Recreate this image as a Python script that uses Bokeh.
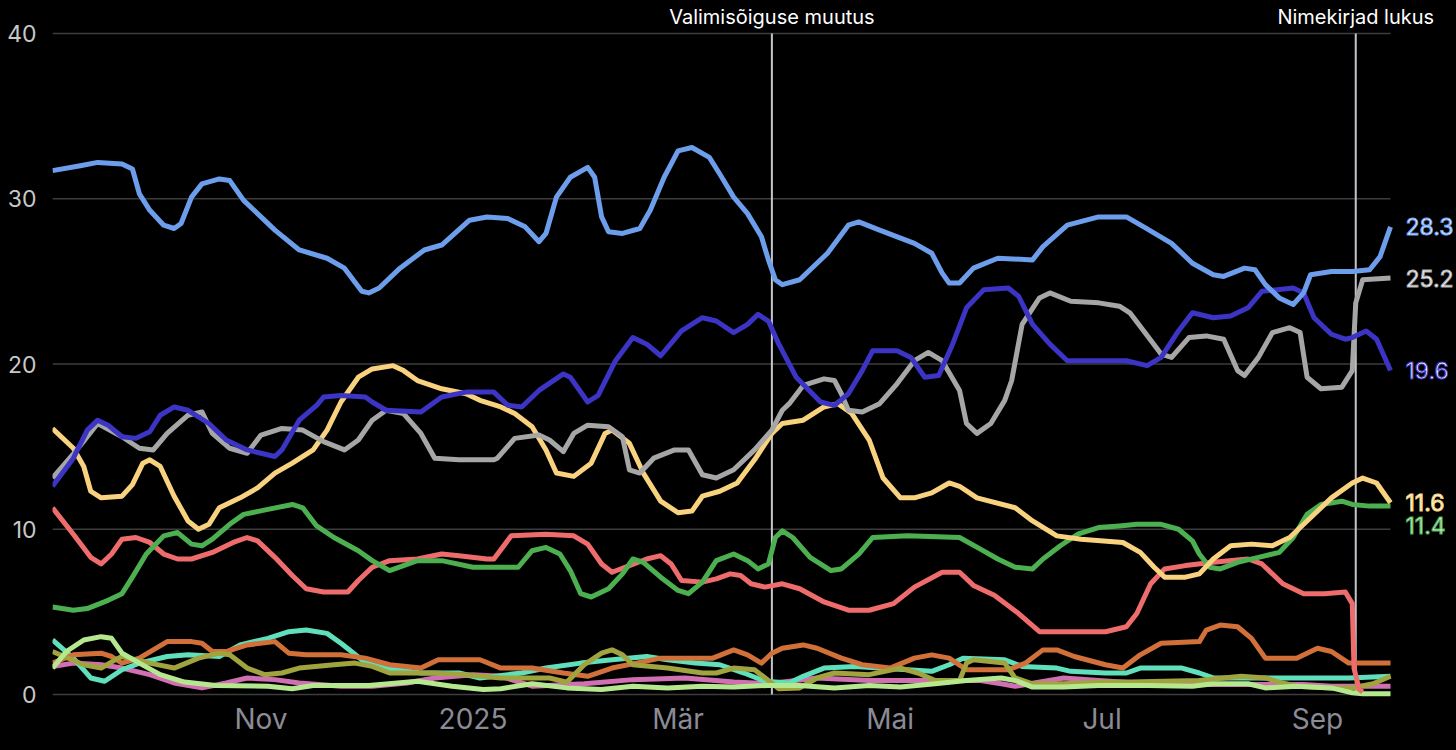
import pandas as pd
from jinja2 import Template
from bokeh.plotting import figure
from bokeh.models import Range1d, FixedTicker, Label
from bokeh.embed import file_html
from bokeh.resources import INLINE

# ---------------- data ----------------
START = pd.Timestamp("2024-09-02")          # first day of the series (day 0)
END_DAY = 385                               # last day with data (2025-09-22)

tick_dates = ["2024-11-01", "2025-01-01", "2025-03-01", "2025-05-01", "2025-07-01", "2025-09-01"]
tick_labels = ["Nov", "2025", "Mär", "Mai", "Jul", "Sep"]
y_ticks = [0, 10, 20, 30, 40]

event_dates = ["2025-03-28", "2025-09-12"]
event_labels = ["Valimisõiguse muutus", "Nimekirjad lukus"]

# series: day offsets from START and values (%)
a_days = [0, 8, 13, 20, 23, 25, 28, 32, 35, 37, 40, 43, 48, 51, 55, 64, 71, 79, 84, 89, 91, 94, 100, 107, 112, 120,
          125, 131, 136, 140, 142, 145, 149, 154, 156, 158, 160, 164, 169, 172, 176, 180, 184, 189, 192, 196, 200,
          204, 206, 208, 210, 215, 223, 229, 232, 238, 248, 253, 256, 258, 261, 265, 272, 282, 285, 292, 301, 309,
          314, 322, 328, 334, 337, 343, 346, 349, 353, 357, 360, 362, 368, 374, 379, 382, 385]
a_vals = [31.7, 32.0, 32.2, 32.1, 31.8, 30.3, 29.3, 28.4, 28.2, 28.5, 30.1, 30.9, 31.2, 31.1, 29.9, 28.1, 26.9, 26.4,
          25.8, 24.4, 24.3, 24.6, 25.8, 26.9, 27.2, 28.7, 28.9, 28.8, 28.3, 27.4, 27.9, 30.1, 31.3, 31.9, 31.3, 28.9,
          28.0, 27.9, 28.2, 29.3, 31.3, 32.9, 33.1, 32.5, 31.5, 30.1, 29.1, 27.7, 26.3, 25.1, 24.8, 25.1, 26.7, 28.4,
          28.6, 28.1, 27.3, 26.7, 25.5, 24.9, 24.9, 25.8, 26.4, 26.3, 27.1, 28.4, 28.9, 28.9, 28.3, 27.3, 26.1, 25.4,
          25.3, 25.8, 25.7, 24.8, 24.0, 23.6, 24.3, 25.4, 25.6, 25.6, 25.7, 26.5, 28.3]

b_days = [0, 6, 10, 13, 16, 20, 24, 28, 31, 35, 39, 45, 50, 56, 64, 66, 71, 76, 78, 83, 90, 92, 96, 106, 112, 119,
          127, 131, 135, 140, 147, 149, 154, 157, 162, 167, 171, 175, 181, 187, 191, 196, 200, 203, 206, 209, 214,
          221, 225, 229, 233, 236, 243, 247, 251, 255, 259, 263, 268, 275, 278, 282, 287, 292, 301, 309, 315, 319,
          324, 328, 334, 339, 344, 348, 357, 360, 363, 368, 372, 374, 378, 381, 385]
b_vals = [12.6, 14.3, 16.0, 16.6, 16.3, 15.6, 15.5, 15.9, 16.9, 17.4, 17.2, 16.4, 15.4, 14.8, 14.4, 14.8, 16.6, 17.5,
          18.0, 18.1, 18.0, 17.7, 17.2, 17.1, 18.0, 18.3, 18.3, 17.5, 17.4, 18.4, 19.4, 19.2, 17.7, 18.1, 20.2, 21.6,
          21.2, 20.5, 22.0, 22.8, 22.6, 21.9, 22.4, 23.0, 22.6, 21.2, 19.2, 17.7, 17.5, 18.2, 19.6, 20.8, 20.8, 20.4,
          19.2, 19.3, 21.2, 23.4, 24.5, 24.6, 24.1, 22.4, 21.2, 20.2, 20.2, 20.2, 19.9, 20.4, 22.0, 23.1, 22.8, 22.9,
          23.4, 24.4, 24.6, 24.3, 22.8, 21.8, 21.5, 21.6, 22.0, 21.5, 19.6]

c_days = [0, 7, 13, 20, 25, 29, 33, 39, 43, 46, 51, 56, 60, 66, 72, 78, 84, 88, 92, 96, 101, 106, 110, 117, 127,
          128, 133, 140, 143, 147, 150, 154, 160, 164, 166, 169, 173, 179, 183, 187, 191, 196, 202, 207, 210, 212,
          216, 222, 225, 227, 229, 233, 238, 243, 248, 252, 256, 261, 263, 266, 270, 274, 276, 279, 284, 287, 293,
          301, 307, 310, 314, 319, 322, 327, 332, 337, 341, 343, 347, 351, 356, 359, 361, 365, 371, 374, 375, 377,
          385]
c_vals = [13.1, 14.8, 16.4, 15.6, 14.9, 14.8, 15.8, 16.9, 17.1, 15.8, 14.9, 14.6, 15.7, 16.1, 16.0, 15.3, 14.8, 15.4,
          16.6, 17.2, 17.0, 15.8, 14.3, 14.2, 14.2, 14.3, 15.5, 15.7, 15.4, 14.7, 15.8, 16.3, 16.2, 15.6, 13.6, 13.4,
          14.3, 14.8, 14.8, 13.3, 13.1, 13.6, 14.8, 16.0, 17.2, 17.6, 18.7, 19.1, 19.0, 18.2, 17.2, 17.1, 17.6, 18.8,
          20.2, 20.7, 20.2, 18.4, 16.4, 15.8, 16.4, 17.8, 19.0, 22.4, 24.0, 24.3, 23.8, 23.7, 23.5, 23.1, 22.0, 20.6,
          20.4, 21.6, 21.7, 21.5, 19.6, 19.3, 20.4, 21.9, 22.2, 21.9, 19.2, 18.5, 18.6, 19.6, 23.7, 25.1, 25.2]

d_days = [0, 6, 9, 11, 14, 20, 23, 26, 28, 31, 35, 39, 42, 45, 48, 54, 59, 64, 69, 75, 79, 83, 88, 92, 98, 101, 105,
          112, 119, 123, 129, 133, 138, 142, 145, 150, 155, 159, 161, 166, 170, 175, 180, 184, 187, 192, 197, 202,
          207, 210, 216, 222, 226, 230, 235, 239, 244, 248, 253, 258, 261, 266, 277, 282, 289, 296, 308, 313, 317,
          320, 326, 330, 334, 339, 345, 351, 356, 361, 368, 374, 377, 381, 385]
d_vals = [16.1, 14.9, 13.8, 12.3, 11.9, 12.0, 12.7, 14.0, 14.2, 13.8, 12.0, 10.5, 10.0, 10.3, 11.3, 11.9, 12.5, 13.4,
          14.0, 14.8, 16.0, 17.7, 19.2, 19.7, 19.9, 19.6, 19.0, 18.5, 18.2, 17.8, 17.4, 17.0, 16.2, 14.8, 13.4, 13.2,
          14.0, 15.8, 16.0, 15.2, 13.4, 11.7, 11.0, 11.1, 12.0, 12.3, 12.8, 14.2, 15.8, 16.4, 16.6, 17.4, 17.6, 17.0,
          15.4, 13.1, 11.9, 11.9, 12.2, 12.8, 12.6, 11.9, 11.3, 10.5, 9.6, 9.4, 9.2, 8.6, 7.7, 7.1, 7.1, 7.3, 8.2, 9.0,
          9.1, 9.0, 9.5, 10.5, 11.9, 12.8, 13.1, 12.8, 11.6]

e_days = [0, 6, 10, 16, 20, 23, 27, 32, 36, 40, 43, 46, 51, 55, 62, 69, 72, 76, 81, 88, 92, 97, 101, 105, 112, 121,
          134, 138, 142, 146, 149, 152, 155, 160, 164, 167, 170, 175, 180, 183, 187, 191, 196, 200, 203, 206, 208,
          210, 213, 218, 224, 227, 232, 236, 246, 261, 267, 272, 277, 282, 285, 290, 295, 301, 307, 312, 319, 324,
          328, 330, 333, 336, 341, 347, 353, 357, 361, 365, 371, 374, 379, 385]
e_vals = [5.3, 5.1, 5.2, 5.7, 6.1, 7.1, 8.5, 9.6, 9.8, 9.1, 9.0, 9.4, 10.3, 10.9, 11.2, 11.5, 11.3, 10.2, 9.5, 8.7,
          8.1, 7.5, 7.8, 8.1, 8.1, 7.7, 7.7, 8.7, 8.9, 8.5, 7.5, 6.1, 5.9, 6.4, 7.3, 8.2, 8.0, 7.1, 6.3, 6.1, 6.8, 8.1,
          8.5, 8.1, 7.6, 7.9, 9.5, 9.9, 9.5, 8.3, 7.5, 7.6, 8.5, 9.5, 9.6, 9.5, 8.8, 8.2, 7.7, 7.6, 8.2, 9.0, 9.7,
          10.1, 10.2, 10.3, 10.3, 10.0, 9.3, 8.5, 7.7, 7.6, 8.0, 8.3, 8.6, 9.5, 10.9, 11.5, 11.7, 11.5, 11.4, 11.4]

f_days = [0, 6, 11, 14, 17, 20, 24, 28, 32, 36, 40, 46, 52, 56, 59, 64, 69, 73, 78, 85, 88, 92, 97, 105, 112, 117,
          125, 127, 132, 142, 150, 154, 158, 161, 166, 171, 175, 178, 181, 187, 191, 195, 198, 201, 205, 210, 215,
          222, 229, 235, 242, 248, 256, 261, 265, 271, 278, 284, 291, 303, 309, 312, 316, 320, 326, 334, 344, 348,
          354, 360, 366, 372, 374, 374.5, 376, 377]
f_vals = [11.3, 9.7, 8.3, 7.9, 8.5, 9.4, 9.5, 9.2, 8.5, 8.2, 8.2, 8.6, 9.2, 9.5, 9.3, 8.3, 7.2, 6.4, 6.2, 6.2, 6.9,
          7.7, 8.1, 8.2, 8.5, 8.4, 8.2, 8.2, 9.6, 9.7, 9.6, 9.1, 7.9, 7.4, 7.8, 8.2, 8.4, 7.9, 6.9, 6.8, 7.0, 7.3, 7.2,
          6.7, 6.5, 6.7, 6.4, 5.6, 5.1, 5.1, 5.5, 6.5, 7.4, 7.4, 6.6, 6.0, 4.9, 3.8, 3.8, 3.8, 4.1, 4.9, 6.7, 7.6, 7.8,
          8.0, 8.2, 7.9, 6.7, 6.1, 6.1, 6.2, 5.5, 1.6, 0.3, 0.15]

g_days = [0, 6, 14, 17, 20, 25, 29, 33, 40, 43, 46, 50, 56, 64, 68, 73, 83, 90, 97, 106, 111, 119, 123, 129, 138,
          147, 154, 161, 168, 175, 190, 196, 200, 204, 207, 210, 216, 220, 227, 233, 241, 248, 253, 258, 263, 275,
          280, 285, 289, 294, 303, 308, 313, 319, 330, 332, 336, 341, 345, 349, 358, 364, 368, 373, 379, 385]
g_vals = [1.9, 2.4, 2.5, 2.3, 1.9, 2.2, 2.7, 3.2, 3.2, 3.1, 2.6, 2.6, 3.0, 3.2, 2.5, 2.4, 2.4, 2.2, 1.8, 1.6, 2.1, 2.1,
          2.1, 1.6, 1.6, 1.3, 1.1, 1.6, 1.9, 2.2, 2.2, 2.7, 2.4, 1.9, 2.5, 2.8, 3.0, 2.8, 2.2, 1.8, 1.6, 2.2, 2.4, 2.2,
          1.5, 1.5, 1.9, 2.7, 2.7, 2.3, 1.8, 1.6, 2.4, 3.1, 3.2, 3.9, 4.2, 4.1, 3.4, 2.2, 2.2, 2.8, 2.6, 1.9, 1.9, 1.9]

h_days = [0, 6, 11, 15, 20, 25, 33, 39, 48, 54, 62, 68, 73, 79, 83, 89, 96, 106, 117, 123, 135, 142, 152, 161, 171,
          177, 185, 192, 199, 205, 212, 216, 222, 231, 238, 246, 253, 258, 262, 274, 279, 289, 293, 303, 309, 313,
          325, 330, 334, 344, 358, 373, 385]
h_vals = [3.3, 2.2, 1.0, 0.8, 1.5, 1.9, 2.3, 2.4, 2.3, 3.0, 3.4, 3.8, 3.9, 3.7, 3.1, 2.1, 1.6, 1.3, 1.3, 1.0, 1.3, 1.6,
          1.9, 2.1, 2.3, 2.1, 1.9, 1.8, 1.3, 0.8, 0.7, 1.1, 1.6, 1.7, 1.6, 1.5, 1.4, 1.8, 2.2, 2.1, 1.7, 1.6, 1.4, 1.3,
          1.3, 1.6, 1.6, 1.3, 1.0, 1.0, 1.0, 1.0, 1.1]

i_days = [0, 6, 14, 20, 28, 35, 43, 50, 56, 64, 71, 83, 92, 102, 110, 121, 129, 138, 153, 167, 182, 196, 206, 220,
          235, 254, 267, 273, 277, 291, 301, 315, 330, 345, 360, 368, 385]
i_vals = [1.7, 1.9, 1.8, 1.6, 1.2, 0.7, 0.4, 0.7, 1.0, 0.9, 0.7, 0.5, 0.5, 0.7, 1.0, 1.2, 1.1, 0.5, 0.65, 0.9, 1.0,
          0.75, 0.65, 1.0, 0.85, 0.85, 0.85, 0.65, 0.5, 1.0, 0.85, 0.65, 0.6, 0.6, 0.6, 0.5, 0.5]

j_days = [0, 9, 14, 18, 20, 28, 35, 42, 48, 51, 56, 61, 66, 71, 81, 87, 92, 97, 110, 119, 129, 143, 148, 153, 158,
          161, 164, 167, 177, 187, 191, 196, 202, 206, 209, 215, 220, 225, 235, 244, 249, 254, 261, 263, 265, 274,
          277, 282, 291, 301, 310, 320, 330, 337, 342, 349, 353, 358, 368, 374, 380, 385]
j_vals = [2.6, 1.8, 1.6, 2.1, 2.3, 1.9, 1.6, 2.2, 2.5, 2.4, 1.6, 1.2, 1.3, 1.6, 1.8, 1.9, 1.7, 1.3, 1.3, 1.2, 1.0,
          1.0, 0.75, 1.8, 2.5, 2.7, 2.4, 1.8, 1.6, 1.3, 1.3, 1.6, 1.5, 0.85, 0.35, 0.4, 1.0, 1.3, 1.2, 1.6, 1.3, 0.85,
          0.85, 1.9, 2.1, 1.9, 1.0, 0.65, 0.65, 0.75, 0.75, 0.8, 0.85, 1.0, 1.1, 1.0, 0.75, 0.5, 0.4, 0.4, 0.65, 1.1]

k_days = [0, 4, 9, 14, 17, 20, 25, 31, 38, 47, 62, 69, 75, 91, 105, 115, 124, 129, 138, 148, 158, 167, 177, 187,
          196, 206, 215, 225, 235, 244, 254, 263, 273, 277, 282, 291, 301, 315, 328, 334, 344, 349, 358, 368, 374,
          377, 385]
k_vals = [1.6, 2.6, 3.3, 3.5, 3.4, 2.5, 1.9, 1.2, 0.75, 0.55, 0.5, 0.35, 0.55, 0.55, 0.8, 0.5, 0.3, 0.35, 0.65, 0.4,
          0.3, 0.5, 0.4, 0.5, 0.45, 0.55, 0.55, 0.4, 0.55, 0.45, 0.65, 0.85, 1.0, 0.85, 0.45, 0.45, 0.55, 0.55, 0.5,
          0.65, 0.65, 0.4, 0.5, 0.4, 0.1, 0.05, 0.05]

# drawing order (back to front), colours, and end-label fill colours (None = no end label)
series = [
    (i_days, i_vals, "#d070b2", None),
    (h_days, h_vals, "#5fdfbb", None),
    (g_days, g_vals, "#d2703a", None),
    (j_days, j_vals, "#a0a33e", None),
    (k_days, k_vals, "#b5e88e", None),
    (f_days, f_vals, "#ee6c6c", None),
    (e_days, e_vals, "#4caf50", "#d8f5d8"),
    (d_days, d_vals, "#f8d27f", "#fff6dc"),
    (c_days, c_vals, "#a6a6a6", "#ffffff"),
    (b_days, b_vals, "#3b34c4", "#ffffff"),
    (a_days, a_vals, "#6d9eeb", "#f2f6ff"),
]
label_shift = {"#4caf50": -19}   # px shift of the 11.4 label so it does not overlap 11.6

FONT = "Inter"

# ---------------- layout ----------------
# frame spans the whole canvas right of the y axis and above the x axis, so that the
# annotation texts (top) and end labels (right) are inside the drawing area
FRAME_W, FRAME_H = 1404, 701
X_END = END_DAY * FRAME_W / 1338          # 1338 px hold the data days
Y_TOP = 40 + 33 / 16.525                  # 16.525 px per percentage point, 40 sits 33 px below the top
Y_BOT = -(FRAME_H - 694) / 16.525

p = figure(frame_width=FRAME_W, frame_height=FRAME_H, output_backend="svg", toolbar_location=None,
           x_range=Range1d(0, X_END), y_range=Range1d(Y_BOT, Y_TOP),
           background_fill_color="black", border_fill_color="black", outline_line_color=None,
           min_border_left=52, min_border_right=0, min_border_top=0, min_border_bottom=0)

tick_days = [(pd.Timestamp(d) - START).days for d in tick_dates]
p.xaxis.ticker = FixedTicker(ticks=tick_days)
p.xaxis.major_label_overrides = {d: lab for d, lab in zip(tick_days, tick_labels)}
p.xaxis.major_label_text_color = "#8b8b96"
p.xaxis.major_label_text_font_size = "28px"
p.xaxis.major_label_text_font = FONT
p.xaxis.major_label_standoff = -6
p.xaxis.axis_line_color = None
p.xaxis.major_tick_line_color = None
p.xaxis.minor_tick_line_color = None

p.yaxis.ticker = FixedTicker(ticks=y_ticks)
p.yaxis.major_label_text_color = "#c8c8c8"
p.yaxis.major_label_text_font_size = "23px"
p.yaxis.major_label_text_font = FONT
p.yaxis.major_label_standoff = 10
p.yaxis.axis_line_color = None
p.yaxis.major_tick_line_color = None
p.yaxis.minor_tick_line_color = None

p.xgrid.grid_line_color = None
p.ygrid.grid_line_color = None

# horizontal grid lines limited to the data period
p.segment(x0=[0] * len(y_ticks), y0=y_ticks, x1=[END_DAY] * len(y_ticks), y1=y_ticks,
          line_color="#3d3d3d", line_width=1.5)

# event lines
ev_days = [(pd.Timestamp(d) - START).days for d in event_dates]
p.segment(x0=ev_days, y0=[y_ticks[0]] * len(ev_days), x1=ev_days, y1=[y_ticks[-1]] * len(ev_days),
          line_color="#c4c4cc", line_width=2)

for days, vals, col, lab_col in series:
    p.line(days, vals, line_color=col, line_width=5, line_join="round")

for d, txt in zip(ev_days, event_labels):
    p.add_layout(Label(x=d, y=y_ticks[-1], y_offset=17, text=txt, text_align="center", text_baseline="middle",
                       text_color="white", text_font_size="20px", text_font=FONT))

for days, vals, col, lab_col in series:
    if lab_col is None:
        continue
    p.add_layout(Label(x=days[-1], y=vals[-1], x_offset=15, y_offset=label_shift.get(col, 0),
                       text=f"{vals[-1]:.1f}", text_align="left", text_baseline="middle",
                       text_color=lab_col, text_font_size="23px", text_font=FONT, text_font_style="normal",
                       text_outline_color=col))

tmpl = Template("""{% extends base %}
{% block preamble %}<style>html, body { margin: 0; padding: 0; background: #000; overflow: hidden; }</style>{% endblock %}""")

open("out.html", "w").write(file_html(p, INLINE, template=tmpl))
